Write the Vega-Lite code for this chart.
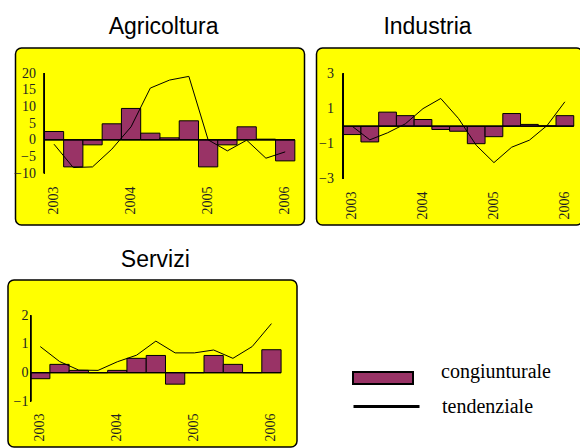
{
  "$schema": "https://vega.github.io/schema/vega-lite/v6.json",
  "padding": {"left": 7, "top": 15, "right": 0, "bottom": 0},
  "background": "white",
  "config": {
    "axis": {"labelFont": "Liberation Serif", "labelFontSize": 14, "labelColor": "#222", "ticks": false, "domain": false, "grid": false, "title": null, "labelOverlap": false},
    "title": {"font": "Liberation Sans", "fontSize": 23, "fontWeight": "normal", "color": "black", "anchor": "middle"}
  },
  "datasets": {
    "agr": [
      {"t": "2003-1", "c": 2.5, "tr": -1.3},
      {"t": "2003-2", "c": -8.1, "tr": -8.3},
      {"t": "2003-3", "c": -1.5, "tr": -8.1},
      {"t": "2003-4", "c": 4.8, "tr": -2.8},
      {"t": "2004-1", "c": 9.4, "tr": 3.9},
      {"t": "2004-2", "c": 2.0, "tr": 15.5},
      {"t": "2004-3", "c": 0.6, "tr": 17.9},
      {"t": "2004-4", "c": 5.7, "tr": 19.0},
      {"t": "2005-1", "c": -8.1, "tr": 0.0},
      {"t": "2005-2", "c": -1.5, "tr": -3.3},
      {"t": "2005-3", "c": 3.9, "tr": -0.1},
      {"t": "2005-4", "c": 0.2, "tr": -5.5},
      {"t": "2006-1", "c": -6.3, "tr": -3.6}
    ],
    "ind": [
      {"t": "2003-1", "c": -0.48, "tr": 0.0},
      {"t": "2003-2", "c": -0.9, "tr": -0.78},
      {"t": "2003-3", "c": 0.8, "tr": -0.38},
      {"t": "2003-4", "c": 0.6, "tr": 0.13},
      {"t": "2004-1", "c": 0.38, "tr": 1.0},
      {"t": "2004-2", "c": -0.19, "tr": 1.58},
      {"t": "2004-3", "c": -0.29, "tr": 0.44},
      {"t": "2004-4", "c": -1.0, "tr": -1.09},
      {"t": "2005-1", "c": -0.6, "tr": -2.08},
      {"t": "2005-2", "c": 0.72, "tr": -1.2},
      {"t": "2005-3", "c": 0.1, "tr": -0.8},
      {"t": "2005-4", "c": 0.02, "tr": 0.04},
      {"t": "2006-1", "c": 0.6, "tr": 1.39}
    ],
    "ser": [
      {"t": "2003-1", "c": -0.21, "tr": 0.91},
      {"t": "2003-2", "c": 0.29, "tr": 0.39},
      {"t": "2003-3", "c": 0.08, "tr": 0.09},
      {"t": "2003-4", "c": 0.0, "tr": 0.08},
      {"t": "2004-1", "c": 0.08, "tr": 0.38},
      {"t": "2004-2", "c": 0.5, "tr": 0.61},
      {"t": "2004-3", "c": 0.6, "tr": 1.1},
      {"t": "2004-4", "c": -0.4, "tr": 0.69},
      {"t": "2005-1", "c": 0.0, "tr": 0.69},
      {"t": "2005-2", "c": 0.6, "tr": 0.79},
      {"t": "2005-3", "c": 0.29, "tr": 0.5},
      {"t": "2005-4", "c": 0.0, "tr": 0.91},
      {"t": "2006-1", "c": 0.8, "tr": 1.71}
    ]
  },
  "spacing": 22,
  "vconcat": [
    {
      "spacing": 3.5,
      "hconcat": [
        {"data": {"values": [{}]}, "mark": {"type": "text", "text": ""}, "width": 1, "height": 1, "view": {"stroke": null, "fill": null}},
        {
          "title": {"text": "Agricoltura", "offset": 9, "dx": 3.6},
          "width": 289,
          "height": 177,
          "view": {"fill": "#ffff00", "stroke": "black", "strokeWidth": 1.5, "cornerRadius": 6},
          "data": {"name": "agr"},
          "encoding": {
            "x": {"field": "t", "type": "ordinal",
              "scale": {"paddingInner": 0, "paddingOuter": 1.155, "align": 0.749},
              "axis": {"values": ["2003-1", "2004-1", "2005-1", "2006-1"], "labelExpr": "slice(datum.label,0,4)", "labelAngle": -90, "offset": -39, "labelPadding": 0}}
          },
          "layer": [
            {"mark": {"type": "bar", "fill": "#993366", "stroke": "black", "strokeWidth": 1},
             "encoding": {"y": {"field": "c", "type": "quantitative", "scale": {"domain": [-25.5, 27.5], "nice": false, "zero": false},
               "axis": {"values": [-10, -5, 0, 5, 10, 15, 20], "tickCount": 20, "format": "d", "offset": -20, "labelPadding": 0, "labelOverlap": false}}}},
            {"mark": {"type": "bar", "fill": "transparent", "stroke": "black", "strokeWidth": 1},
             "encoding": {"y": {"datum": 0}, "y2": {"datum": 0}}},
            {"mark": {"type": "line", "color": "black", "strokeWidth": 1},
             "encoding": {"y": {"field": "tr", "type": "quantitative"}}},
            {"mark": {"type": "rule", "color": "black", "strokeWidth": 1},
             "encoding": {"x": {"datum": "2003-1", "bandPosition": 0}, "y": {"datum": -10}, "y2": {"datum": 20}}}
          ]
        },
        {"data": {"values": [{}]}, "mark": {"type": "text", "text": ""}, "width": 3, "height": 1, "view": {"stroke": null, "fill": null}},
        {
          "title": {"text": "Industria", "offset": 9, "dx": -22},
          "width": 266,
          "height": 177,
          "view": {"fill": "#ffff00", "stroke": "black", "strokeWidth": 1.5, "cornerRadius": 6},
          "data": {"name": "ind"},
          "encoding": {
            "x": {"field": "t", "type": "ordinal",
              "scale": {"paddingInner": 0, "paddingOuter": 1.1, "align": 0.753},
              "axis": {"values": ["2003-1", "2004-1", "2005-1", "2006-1"], "labelExpr": "slice(datum.label,0,4)", "labelAngle": -90, "offset": -34, "labelPadding": 0}}
          },
          "layer": [
            {"mark": {"type": "bar", "fill": "#993366", "stroke": "black", "strokeWidth": 1},
             "encoding": {"y": {"field": "c", "type": "quantitative", "scale": {"domain": [-5.64, 4.46], "nice": false, "zero": false},
               "axis": {"values": [-3, -1, 1, 3], "tickCount": 20, "format": "d", "offset": -17, "labelPadding": 0, "labelOverlap": false}}}},
            {"mark": {"type": "bar", "fill": "transparent", "stroke": "black", "strokeWidth": 1},
             "encoding": {"y": {"datum": 0}, "y2": {"datum": 0}}},
            {"mark": {"type": "line", "color": "black", "strokeWidth": 1},
             "encoding": {"y": {"field": "tr", "type": "quantitative"}}},
            {"mark": {"type": "rule", "color": "black", "strokeWidth": 1},
             "encoding": {"x": {"datum": "2003-1", "bandPosition": 0}, "y": {"datum": -3}, "y2": {"datum": 3}}}
          ]
        }
      ]
    },
    {
      "hconcat": [
        {
          "title": {"text": "Servizi", "offset": 8, "dx": 2.8},
          "width": 289,
          "height": 167,
          "view": {"fill": "#ffff00", "stroke": "black", "strokeWidth": 1.5, "cornerRadius": 6},
          "data": {"name": "ser"},
          "encoding": {
            "x": {"field": "t", "type": "ordinal",
              "scale": {"paddingInner": 0, "paddingOuter": 1.528, "align": 0.587},
              "axis": {"values": ["2003-1", "2004-1", "2005-1", "2006-1"], "labelExpr": "slice(datum.label,0,4)", "labelAngle": -90, "offset": -34, "labelPadding": 0}}
          },
          "layer": [
            {"mark": {"type": "bar", "stroke": "black", "strokeWidth": 1},
             "encoding": {
               "y": {"field": "c", "type": "quantitative", "scale": {"domain": [-2.59, 3.23], "nice": false, "zero": false},
                 "axis": {"values": [-1, 0, 1, 2], "tickCount": 20, "format": "d", "offset": -20, "labelPadding": 0, "labelOverlap": false}},
               "color": {"datum": "congiunturale", "type": "nominal", "scale": {"range": ["#993366"]},
                 "legend": {"orient": "none", "legendX": 344, "legendY": 299, "title": null, "padding": 0,
                   "symbolType": "M-1,-0.2H1V0.2H-1Z", "symbolSize": 3600, "symbolStrokeColor": "black", "symbolStrokeWidth": 2,
                   "labelFont": "Liberation Serif", "labelFontSize": 20, "labelColor": "black", "labelOffset": 27, "labelBaseline": "alphabetic",
                   "encode": {"symbols": {"update": {"fill": {"value": "#800080"}, "stroke": {"value": "black"}, "strokeWidth": {"value": 2}, "opacity": {"value": 1}}}}}}
             }},
            {"mark": {"type": "bar", "fill": "transparent", "stroke": "black", "strokeWidth": 1},
             "encoding": {"y": {"datum": 0}, "y2": {"datum": 0}}},
            {"mark": {"type": "line", "strokeWidth": 1},
             "encoding": {
               "y": {"field": "tr", "type": "quantitative"},
               "stroke": {"datum": "tendenziale", "type": "nominal", "scale": {"range": ["black"]},
                 "legend": {"orient": "none", "legendX": 344, "legendY": 324, "title": null, "padding": 0,
                   "symbolType": "stroke", "symbolSize": 4356, "symbolStrokeWidth": 3, "symbolStrokeColor": "black",
                   "labelFont": "Liberation Serif", "labelFontSize": 20, "labelColor": "black", "labelOffset": 21, "labelBaseline": "middle"}}
             }},
            {"mark": {"type": "rule", "color": "black", "strokeWidth": 1},
             "encoding": {"x": {"datum": "2003-1", "bandPosition": 0}, "y": {"datum": -1}, "y2": {"datum": 2}}}
          ]
        }
      ]
    }
  ]
}
